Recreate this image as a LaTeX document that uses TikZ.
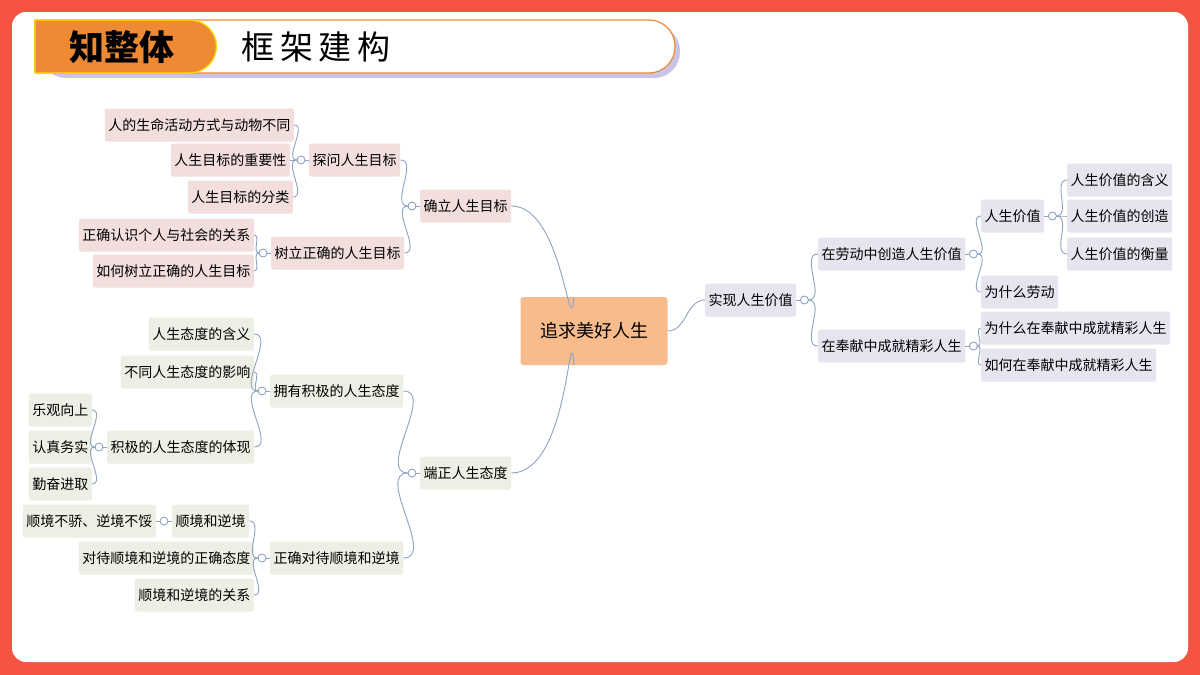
\documentclass[tikz,border=0pt]{standalone}
\usepackage{fontspec}
\setmainfont{Noto Sans CJK SC}
\usetikzlibrary{calc,shadows}
\definecolor{frame}{HTML}{F4533F}
\definecolor{org}{HTML}{EE8A33}
\definecolor{pk}{HTML}{F1DEDD}
\definecolor{gr}{HTML}{ECEFE3}
\definecolor{lv}{HTML}{E7E4EF}
\definecolor{ctr}{HTML}{F8BC8C}
\definecolor{lnc}{HTML}{8EA2C2}
\definecolor{shd}{HTML}{C9C3E6}
\tikzset{
 bx/.style={rounded corners=2pt,inner xsep=3.5pt,minimum height=33pt,font=\fontsize{14}{16}\selectfont},
 pkn/.style={bx,fill=pk},
 grn/.style={bx,fill=gr},
 lvn/.style={bx,fill=lv},
 ln/.style={draw=lnc,line width=0.9pt},
}
\newcommand\myleft[2]{%
 \draw[ln] (#1.west) -- ++(-4,0);
 \draw[ln,fill=white] ($(#1.west)+(-8,0)$) circle(4);
 \foreach \c in {#2} {\draw[ln] ($(#1.west)+(-12,0)$) to[out=180,in=0] (\c.east);}}
\newcommand\myright[2]{%
 \draw[ln] (#1.east) -- ++(4,0);
 \draw[ln,fill=white] ($(#1.east)+(8,0)$) circle(4);
 \foreach \c in {#2} {\draw[ln] ($(#1.east)+(12,0)$) to[out=0,in=180] (\c.west);}}
\begin{document}
\begin{tikzpicture}[x=1pt,y=-1pt]
\useasboundingbox (0,0) rectangle (1200,675);
\fill[frame] (0,0) rectangle (1200,675);
\fill[white,rounded corners=14pt] (12,12) rectangle (1188,662);
% header
\fill[shd,rounded corners=26pt] (40,25) -- (680,25) -- (680,78) -- (40,78) -- cycle;
\draw[org,line width=1.2pt,fill=white,rounded corners=26pt] (35,20) -- (675,20) -- (675,73) -- (35,73);
\draw[org,line width=1.2pt] (35,20) -- (35,73);
\draw[yellow!80!orange,line width=1.2pt,fill=org] (35,20) -- (190,20) arc(-90:90:26.5) -- (35,73) -- cycle;
\node[font=\fontsize{35}{38}\selectfont\bfseries] (h1) at (122,47) {知整体};
\node[font=\fontsize{33}{36}\selectfont,anchor=west] (h2) at (238,47) {框\,架\,建\,构};
% center
\node[fill=ctr,rounded corners=3pt,minimum width=147pt,minimum height=68pt,font=\fontsize{18}{20}\selectfont] (c) at (594,331) {追求美好人生};
% left top
\node[pkn,anchor=west] (a) at (420,206) {确立人生目标};
\node[pkn,anchor=west] (a1) at (309,160) {探问人生目标};
\node[pkn,anchor=west] (a2) at (271,253) {树立正确的人生目标};
\node[pkn,anchor=east] (a11) at (294,125) {人的生命活动方式与动物不同};
\node[pkn,anchor=east] (a12) at (290,160) {人生目标的重要性};
\node[pkn,anchor=east] (a13) at (293,197) {人生目标的分类};
\node[pkn,anchor=east] (a21) at (254,235) {正确认识个人与社会的关系};
\node[pkn,anchor=east] (a22) at (254,271) {如何树立正确的人生目标};
% left bottom
\node[grn,anchor=west] (b) at (420,473) {端正人生态度};
\node[grn,anchor=west] (b1) at (270,391) {拥有积极的人生态度};
\node[grn,anchor=west] (b2) at (270,558) {正确对待顺境和逆境};
\node[grn,anchor=east] (b11) at (254,334) {人生态度的含义};
\node[grn,anchor=east] (b12) at (254,372) {不同人生态度的影响};
\node[grn,anchor=west] (b13) at (107,447) {积极的人生态度的体现};
\node[grn,anchor=east] (d1) at (92,410) {乐观向上};
\node[grn,anchor=east] (d2) at (92,447) {认真务实};
\node[grn,anchor=east] (d3) at (92,484) {勤奋进取};
\node[grn,anchor=west] (b21) at (172,521) {顺境和逆境};
\node[grn,anchor=east] (e1) at (156,521) {顺境不骄、逆境不馁};
\node[grn,anchor=east] (b22) at (254,558) {对待顺境和逆境的正确态度};
\node[grn,anchor=east] (b23) at (254,595) {顺境和逆境的关系};
% right
\node[lvn,anchor=west] (r) at (705,300) {实现人生价值};
\node[lvn,anchor=west] (r1) at (818,254) {在劳动中创造人生价值};
\node[lvn,anchor=west] (r2) at (818,346) {在奉献中成就精彩人生};
\node[lvn,anchor=west] (r11) at (981,216) {人生价值};
\node[lvn,anchor=west] (r12) at (981,292) {为什么劳动};
\node[lvn,anchor=west] (s1) at (1067,180) {人生价值的含义};
\node[lvn,anchor=west] (s2) at (1067,216) {人生价值的创造};
\node[lvn,anchor=west] (s3) at (1067,254) {人生价值的衡量};
\node[lvn,anchor=west] (r21) at (981,328) {为什么在奉献中成就精彩人生};
\node[lvn,anchor=west] (r22) at (981,365) {如何在奉献中成就精彩人生};
% connectors
\draw[ln] ($(c.north)+(-20,0)$) to[out=-95,in=0,looseness=1.2] (a.east);
\draw[ln] ($(c.south)+(-20,0)$) to[out=95,in=0,looseness=1.2] (b.east);
\draw[ln] (c.east) to[out=0,in=180] (r.west);
\myleft{a}{a1,a2}
\myleft{a1}{a11,a12,a13}
\myleft{a2}{a21,a22}
\myleft{b}{b1,b2}
\myleft{b1}{b11,b12,b13}
\myleft{b13}{d1,d2,d3}
\myleft{b2}{b21,b22,b23}
\myleft{b21}{e1}
\myright{r}{r1,r2}
\myright{r1}{r11,r12}
\myright{r11}{s1,s2,s3}
\myright{r2}{r21,r22}
\end{tikzpicture}
\end{document}
